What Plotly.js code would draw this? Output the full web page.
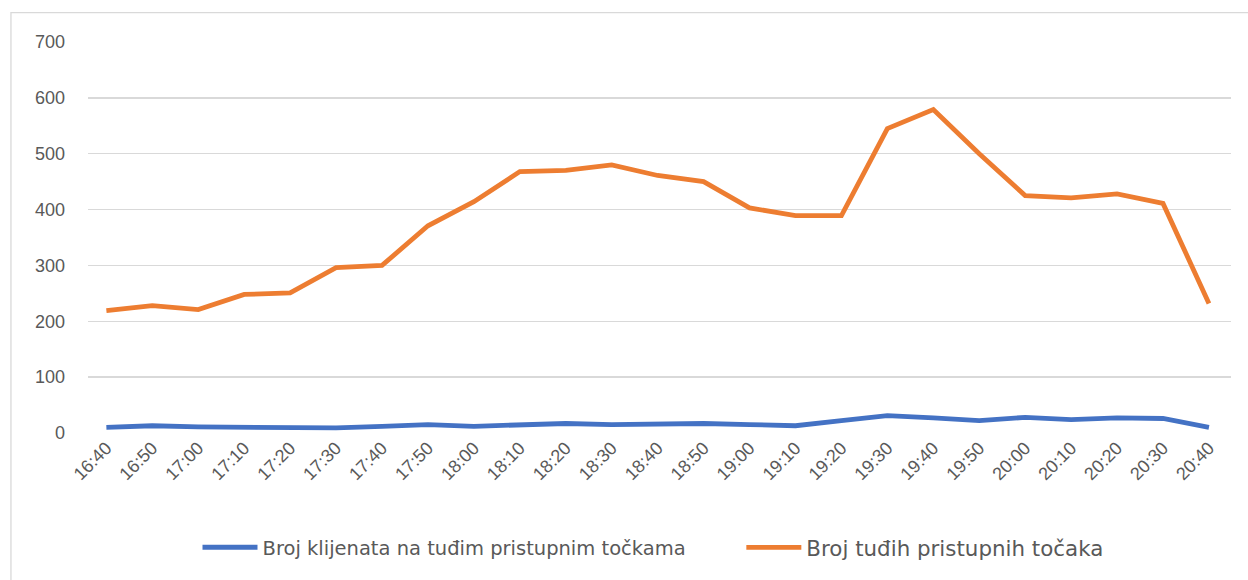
<!DOCTYPE html>
<html>
<head>
<meta charset="utf-8">
<script src="https://cdn.plot.ly/plotly-3.0.1.min.js"></script>
<style>html,body{margin:0;padding:0;background:#fff;}#chart{width:1248px;height:580px;}</style>
</head>
<body>
<div id="chart"></div>
<script>
const times = ["16:40","16:50","17:00","17:10","17:20","17:30","17:40","17:50","18:00","18:10","18:20","18:30","18:40","18:50","19:00","19:10","19:20","19:30","19:40","19:50","20:00","20:10","20:20","20:30","20:40"];
const clients = [10,13,11,10,8,9,12,15,12,15,17,15,16,17,15,13,22,31,27,22,28,24,27,26,10];
const accessPoints = [219,228,221,248,251,296,300,371,414,468,470,480,461,450,403,389,389,545,579,500,425,421,428,411,232];
const yTicks = [0,100,200,300,400,500,600,700];
const seriesNames = ["Broj klijenata na tuđim pristupnim točkama","Broj tuđih pristupnih točaka"];

const traces = [
  {x: times, y: clients, name: seriesNames[0], type: "scatter", mode: "lines", legend: "legend",
   line: {color: "#4472c4", width: 4.8, shape: "linear"}},
  {x: times, y: accessPoints, name: seriesNames[1], type: "scatter", mode: "lines", legend: "legend2",
   line: {color: "#ed7d31", width: 4.8}}
];

const layout = {
  width: 1248, height: 580,
  margin: {l: 88, r: 17, t: 42, b: 146.5},
  paper_bgcolor: "#fff", plot_bgcolor: "#fff",
  font: {family: "Liberation Sans, Arial, sans-serif", color: "#595959", size: 18},
  showlegend: true,
  xaxis: {type: "category", range: [-0.4, 24.48], tickangle: -45, showgrid: false, zeroline: false,
          showline: false, ticks: "", tickfont: {size: 18, color: "#595959"}, automargin: false},
  yaxis: {range: [0, 700], tickvals: yTicks, showgrid: true, gridcolor: "#d9d9d9", gridwidth: 1.3,
          zeroline: false, showline: false, ticks: "", ticklabelstandoff: 22,
          tickfont: {size: 18, color: "#595959"}, automargin: false},
  legend: {orientation: "h", x: 0.0958, xanchor: "left", y: -0.293, yanchor: "middle", itemwidth: 55,
           font: {family: "DejaVu Sans, sans-serif", size: 19.5, color: "#595959"}, bgcolor: "rgba(0,0,0,0)"},
  legend2: {orientation: "h", x: 0.5716, xanchor: "left", y: -0.293, yanchor: "middle", itemwidth: 55,
           font: {family: "DejaVu Sans, sans-serif", size: 21.4, color: "#595959"}, bgcolor: "rgba(0,0,0,0)"},
  shapes: [
    {type: "rect", xref: "paper", yref: "paper", x0: -0.0674, x1: 1.2, y0: -0.5, y1: 1.075,
     line: {color: "#d9d9d9", width: 1.3}, fillcolor: "rgba(0,0,0,0)", layer: "below"}
  ]
};

Plotly.newPlot("chart", traces, layout, {displayModeBar: false, staticPlot: true});
</script>
</body>
</html>
